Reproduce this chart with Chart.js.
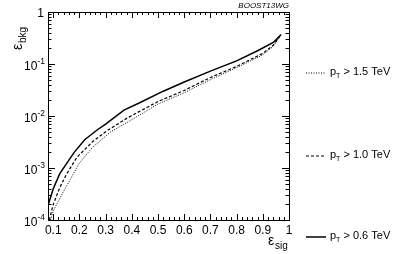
<!DOCTYPE html>
<html><head><meta charset="utf-8">
<script src="https://cdn.jsdelivr.net/npm/chart.js@4/dist/chart.umd.min.js"></script>
<style>html,body{margin:0;padding:0;background:#fff;}#wrap{width:399px;height:254px;position:relative;}</style>
</head><body><div id="wrap"><canvas id="c" width="399" height="254"></canvas></div>
<script>
// ---- data ----
const seriesNames = ["p_T > 1.5 TeV", "p_T > 1.0 TeV", "p_T > 0.6 TeV"];
const xPt15 = [0.09, 0.10, 0.14, 0.20, 0.25, 0.32, 0.40, 0.50, 0.60, 0.70, 0.80, 0.90, 0.94, 0.97];
const yPt15 = [1.0e-4, 1.5e-4, 3.6e-4, 1.25e-3, 2.5e-3, 5.0e-3, 8.5e-3, 0.017, 0.028, 0.050, 0.085, 0.15, 0.22, 0.37];
const xPt10 = [0.085, 0.10, 0.125, 0.15, 0.19, 0.25, 0.30, 0.38, 0.50, 0.60, 0.70, 0.80, 0.90, 0.94, 0.97];
const yPt10 = [1.0e-4, 2.0e-4, 4.2e-4, 7.5e-4, 1.6e-3, 3.2e-3, 5.0e-3, 9.0e-3, 0.019, 0.031, 0.055, 0.090, 0.16, 0.23, 0.37];
const xPt06 = [0.08, 0.10, 0.125, 0.15, 0.18, 0.22, 0.27, 0.30, 0.37, 0.43, 0.52, 0.60, 0.70, 0.80, 0.88, 0.94, 0.97];
const yPt06 = [1.9e-4, 4.0e-4, 7.8e-4, 1.2e-3, 2.0e-3, 3.5e-3, 5.5e-3, 7.0e-3, 0.013, 0.018, 0.030, 0.045, 0.073, 0.115, 0.18, 0.26, 0.37];
const xTickLabels = ["0.1","0.2","0.3","0.4","0.5","0.6","0.7","0.8","0.9","1"];
const xTickValues = [0.1,0.2,0.3,0.4,0.5,0.6,0.7,0.8,0.9,1.0];
const yTickExponents = [0, -1, -2, -3, -4];

function pts(xs, ys){ return xs.map((x,i)=>({x:x, y:ys[i]})); }

const FONT = '"Liberation Sans", Arial, Helvetica, sans-serif';

const decor = {
  id: 'decor',
  afterDraw(chart){
    const ctx = chart.ctx, a = chart.chartArea;
    const xs = chart.scales.x, ys = chart.scales.y;
    ctx.save();
    ctx.strokeStyle = '#000'; ctx.lineWidth = 1; ctx.setLineDash([]);
    // frame
    ctx.strokeRect(Math.round(a.left)+0.5, Math.round(a.top)+0.5, Math.round(a.right-a.left), Math.round(a.bottom-a.top));
    // x ticks (bottom and top), inward
    ctx.beginPath();
    for (let i=0;i<=50;i++){
      const v = Math.round((0.08 + i*0.02)*100)/100;
      if (v > 1.0001) break;
      const major = Math.abs(v*10 - Math.round(v*10)) < 1e-6;
      const len = major ? 6 : 3;
      const px = Math.round(xs.getPixelForValue(v)) + 0.5;
      ctx.moveTo(px, a.bottom); ctx.lineTo(px, a.bottom - len);
      ctx.moveTo(px, a.top); ctx.lineTo(px, a.top + len);
    }
    // y ticks (left and right), log
    for (let e=-4;e<=0;e++){
      for (let m=1;m<=9;m++){
        if (e===0 && m>1) break;
        const v = m*Math.pow(10,e);
        const len = m===1 ? 7 : 3.5;
        const py = Math.round(ys.getPixelForValue(v)) + 0.5;
        ctx.moveTo(a.left, py); ctx.lineTo(a.left + len, py);
        ctx.moveTo(a.right, py); ctx.lineTo(a.right - len, py);
      }
    }
    ctx.stroke();
    // x tick labels
    ctx.fillStyle = '#000';
    ctx.font = '12px ' + FONT;
    ctx.textAlign = 'center'; ctx.textBaseline = 'middle';
    xTickValues.forEach((v,i)=>{
      ctx.fillText(xTickLabels[i], xs.getPixelForValue(v), a.bottom + 11);
    });
    // y tick labels
    yTickExponents.forEach(e=>{
      const py = ys.getPixelForValue(Math.pow(10,e));
      if (e===0){
        ctx.font = '12px ' + FONT; ctx.textAlign='right'; ctx.textBaseline='middle';
        ctx.fillText('1', a.left - 4, py + 2);
      } else {
        const exp = String(e).replace('-', '\u2212').replace('\u2212','-');
        ctx.font = '8.5px ' + FONT; ctx.textAlign='right'; ctx.textBaseline='middle';
        const ew = ctx.measureText(exp).width;
        ctx.fillText(exp, a.left - 3, py - 2);
        ctx.font = '12px ' + FONT;
        ctx.fillText('10', a.left - 3 - ew, py + 3);
      }
    });
    // axis titles
    ctx.font = '14px ' + FONT;
    ctx.textAlign='left'; ctx.textBaseline='alphabetic';
    ctx.fillText('\u03B5', 268, 245);
    ctx.font = '10px ' + FONT;
    ctx.fillText('sig', 275, 249);
    ctx.save();
    ctx.translate(22, 50); ctx.rotate(-Math.PI/2);
    ctx.font = '14px ' + FONT; ctx.textAlign='left';
    ctx.fillText('\u03B5', 0, 0);
    ctx.font = '10px ' + FONT;
    ctx.fillText('bkg', 7, 4);
    ctx.restore();
    // watermark
    ctx.font = 'italic 8px ' + FONT; ctx.textAlign='right'; ctx.textBaseline='alphabetic';
    ctx.fillText('BOOST13WG', a.right, 8);
    // legend
    const legY = [73, 156, 237];
    const dashes = [[1,1.5],[3,2],[]];
    const widths = [1,1.2,1.5];
    seriesNames.forEach((n,i)=>{
      ctx.setLineDash(dashes[i]); ctx.lineWidth = widths[i];
      ctx.beginPath(); ctx.moveTo(306, legY[i]); ctx.lineTo(326, legY[i]); ctx.stroke();
      ctx.setLineDash([]);
      const parts = n.split('_T');
      ctx.font = '11px ' + FONT; ctx.textAlign='left'; ctx.textBaseline='middle';
      ctx.fillText(parts[0], 330, legY[i] - 1);
      const w0 = ctx.measureText(parts[0]).width;
      ctx.font = '7px ' + FONT;
      ctx.fillText('T', 330 + w0, legY[i] + 3);
      const w1 = ctx.measureText('T').width;
      ctx.font = '11px ' + FONT;
      ctx.fillText(parts[1], 330 + w0 + w1, legY[i] - 1);
    });
    ctx.restore();
  }
};

new Chart(document.getElementById('c'), {
  type: 'line',
  data: { datasets: [
    { label: seriesNames[0], data: pts(xPt15, yPt15), borderColor:'#000', borderWidth:1, borderDash:[1,1.5], pointRadius:0, fill:false, tension:0 },
    { label: seriesNames[1], data: pts(xPt10, yPt10), borderColor:'#000', borderWidth:1.2, borderDash:[3,2], pointRadius:0, fill:false, tension:0 },
    { label: seriesNames[2], data: pts(xPt06, yPt06), borderColor:'#000', borderWidth:1.5, pointRadius:0, fill:false, tension:0 }
  ]},
  options: {
    responsive:false, animation:false, devicePixelRatio:1,
    layout:{ padding:{ left:48, right:110, top:12, bottom:34 } },
    plugins:{ legend:{display:false}, tooltip:{enabled:false} },
    scales:{
      x:{ type:'linear', min:0.08, max:1.0, display:false },
      y:{ type:'logarithmic', min:1e-4, max:1, display:false }
    }
  },
  plugins:[decor]
});
</script></body></html>
